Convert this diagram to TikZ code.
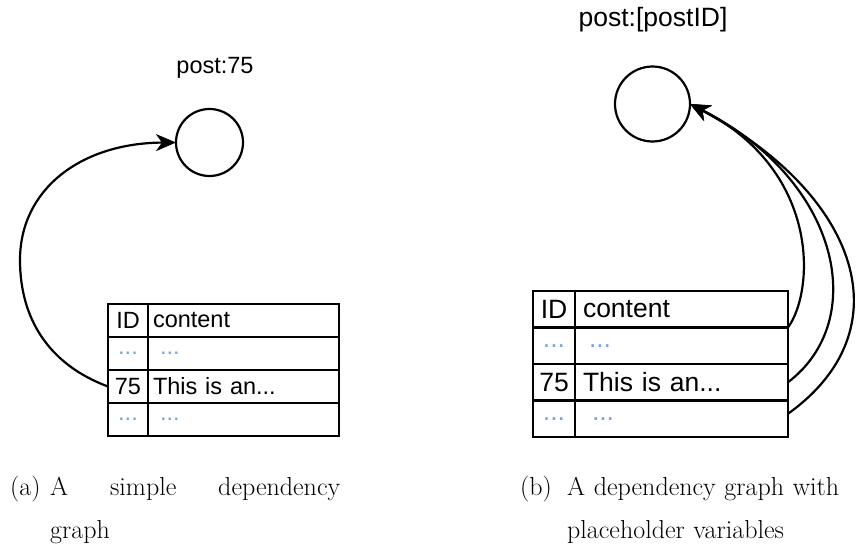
\documentclass[tikz,border=0pt]{standalone}
\usepackage{fontspec}
\newfontfamily\arial{Liberation Sans}
\usetikzlibrary{arrows.meta}
\definecolor{dotblue}{RGB}{120,165,215}
\newcommand{\smallsans}{\arial\fontsize{23.5}{28}\selectfont}
\newcommand{\bigsans}{\arial\fontsize{26.5}{31}\selectfont}
\begin{document}
\begin{tikzpicture}[x=1pt,y=-1pt,
  vertex/.style={circle,draw,line width=2.2pt,inner sep=0pt,outer sep=0pt},
  dep/.style={line width=2.2pt,-{Stealth[length=20pt,width=17pt,inset=6pt]}},
  cellbox/.style={draw,line width=2.8pt,inner sep=0pt,outer sep=0pt,anchor=north west},
  dotcell/.style={text=dotblue},
  % left table
  ltab/.style={cellbox,font=\smallsans,minimum height=33pt},
  lid/.style={ltab,minimum width=40pt},
  lct/.style={ltab,text width=181pt,inner xsep=5pt,align=left},
  % right table
  rtab/.style={cellbox,font=\bigsans,minimum height=36.5pt},
  rid/.style={rtab,minimum width=42pt},
  rct/.style={rtab,text width=197pt,inner xsep=8pt,align=left},
  capt/.style={font=\fontsize{26}{43}\selectfont,inner sep=0pt,anchor=base west}
]
\useasboundingbox (0,0) rectangle (865,554);

% ---- (a) simple dependency graph ----
\node[font=\smallsans,anchor=base] (lt) at (215,73) {post:75};
\node[vertex,minimum size=67pt] (lc) at (209.5,142.5) {};

\node[lid] (lh1) at (108,304) {ID};
\node[lct] (lh2) at (148,304) {content};
\node[lid,dotcell] (la1) at (108,337) {...};
\node[lct,dotcell] (la2) at (148,337) {\hspace*{7pt}...};
\node[lid] (lb1) at (108,370) {75};
\node[lct] (lb2) at (148,370) {This is an...};
\node[lid,dotcell] (lc1) at (108,403) {...};
\node[lct,dotcell] (lc2) at (148,403) {\hspace*{7pt}...};

\draw[dep] (lb1.west) .. controls (50,365) and (20,320) .. (20,260)
  .. controls (20,190) and (80,143) .. (lc.west);

% ---- (b) graph with placeholder variables ----
\node[font=\bigsans,anchor=base] (rt) at (653,27) {post:[postID]};
\node[vertex,minimum size=75pt] (rc) at (652.5,104) {};

\node[rid] (rh1) at (533,291) {ID};
\node[rct] (rh2) at (575,291) {content};
\node[rid,dotcell] (ra1) at (533,327.5) {...};
\node[rct,dotcell] (ra2) at (575,327.5) {\hspace*{6pt}...};
\node[rid] (rb1) at (533,364) {75};
\node[rct] (rb2) at (575,364) {This is an...};
\node[rid,dotcell] (rd1) at (533,400.5) {...};
\node[rct,dotcell] (rd2) at (575,400.5) {\hspace*{9pt}...};

\draw[dep] (rh2.south east) .. controls (815,290) and (820,170) .. (rc.east);
\draw[dep] (rb2.east) .. controls (870,320) and (840,180) .. (rc.east);
\draw[dep] ([yshift=5pt]rd2.east) .. controls (905,330) and (860,195) .. (rc.east);

% ---- captions ----
\node[capt] (capal) at (10,495) {(a)};
\node[capt,text width=290pt,align=left] (capa) at (50,495)
  {A\hfill simple\hfill dependency\\graph};
\node[capt] (capbl) at (520,495) {(b)};
\node[capt,text width=296pt,align=left] (capb) at (567,495)
  {A dependency graph with\\placeholder variables};
\end{tikzpicture}
\end{document}
